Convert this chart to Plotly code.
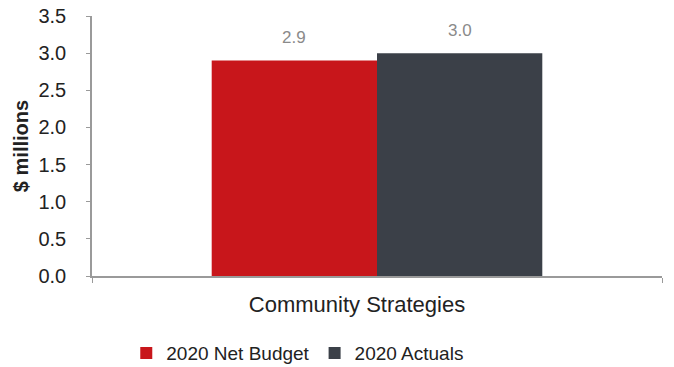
import plotly.graph_objects as go

categories = ["Community Strategies"]
series_names = ["2020 Net Budget", "2020 Actuals"]
series_values = [[2.9], [3.0]]
series_colors = ["#C8161B", "#3B4048"]
y_ticks = [0.0, 0.5, 1.0, 1.5, 2.0, 2.5, 3.0, 3.5]

W, H = 674, 367
M = dict(l=92, r=12, t=16, b=91)
BARGAP = 0.42

fig = go.Figure()
for name, vals, col in zip(series_names, series_values, series_colors):
    fig.add_trace(go.Bar(
        x=categories, y=vals, name=name,
        marker=dict(color=col, line=dict(width=0)),
    ))

# value labels centred over each bar of the group
plot_w = W - M["l"] - M["r"]
bar_w = plot_w * (1 - BARGAP) / len(series_names)
for i, vals in enumerate(series_values):
    shift = (i - (len(series_names) - 1) / 2) * bar_w
    for cat, v in zip(categories, vals):
        fig.add_annotation(
            x=cat, y=v, text=f"{v:.1f}", showarrow=False,
            xshift=shift, yshift=23, yanchor="middle",
            font=dict(family="Liberation Sans, Arial", size=17, color="#8A8A8A"),
        )

fig.update_layout(
    width=W, height=H,
    margin=dict(**M, autoexpand=False),
    paper_bgcolor="white", plot_bgcolor="white",
    barmode="group", bargap=BARGAP, bargroupgap=0,
    font=dict(family="Liberation Sans, Arial", color="#222222"),
    showlegend=True,
    legend=dict(
        orientation="h", x=0.361, xanchor="center",
        yref="container", y=0.038, yanchor="middle",
        font=dict(size=19, color="#222222"), itemwidth=30,
        traceorder="normal",
    ),
    xaxis=dict(
        range=[-0.5, 0.5], showline=True, linecolor="#9A9A9A", linewidth=1.5,
        ticks="outside", tickson="boundaries", ticklen=5, tickcolor="#9A9A9A",
        tickfont=dict(size=22, color="#222222"), ticklabelshift=-20,
        ticklabelstandoff=8,
    ),
    yaxis=dict(
        range=[0, 3.5], tickvals=y_ticks, ticktext=[f"{t:.1f}" for t in y_ticks],
        showgrid=False, zeroline=False, showline=True, linecolor="#9A9A9A",
        linewidth=1.5, ticks="outside", ticklen=4, tickcolor="#9A9A9A",
        tickfont=dict(size=20, color="#222222"), ticklabelstandoff=16,
        title=dict(text="<b>$ millions</b>", font=dict(size=20, color="#222222"),
                   standoff=4),
    ),
)

fig.write_html("out.html")
